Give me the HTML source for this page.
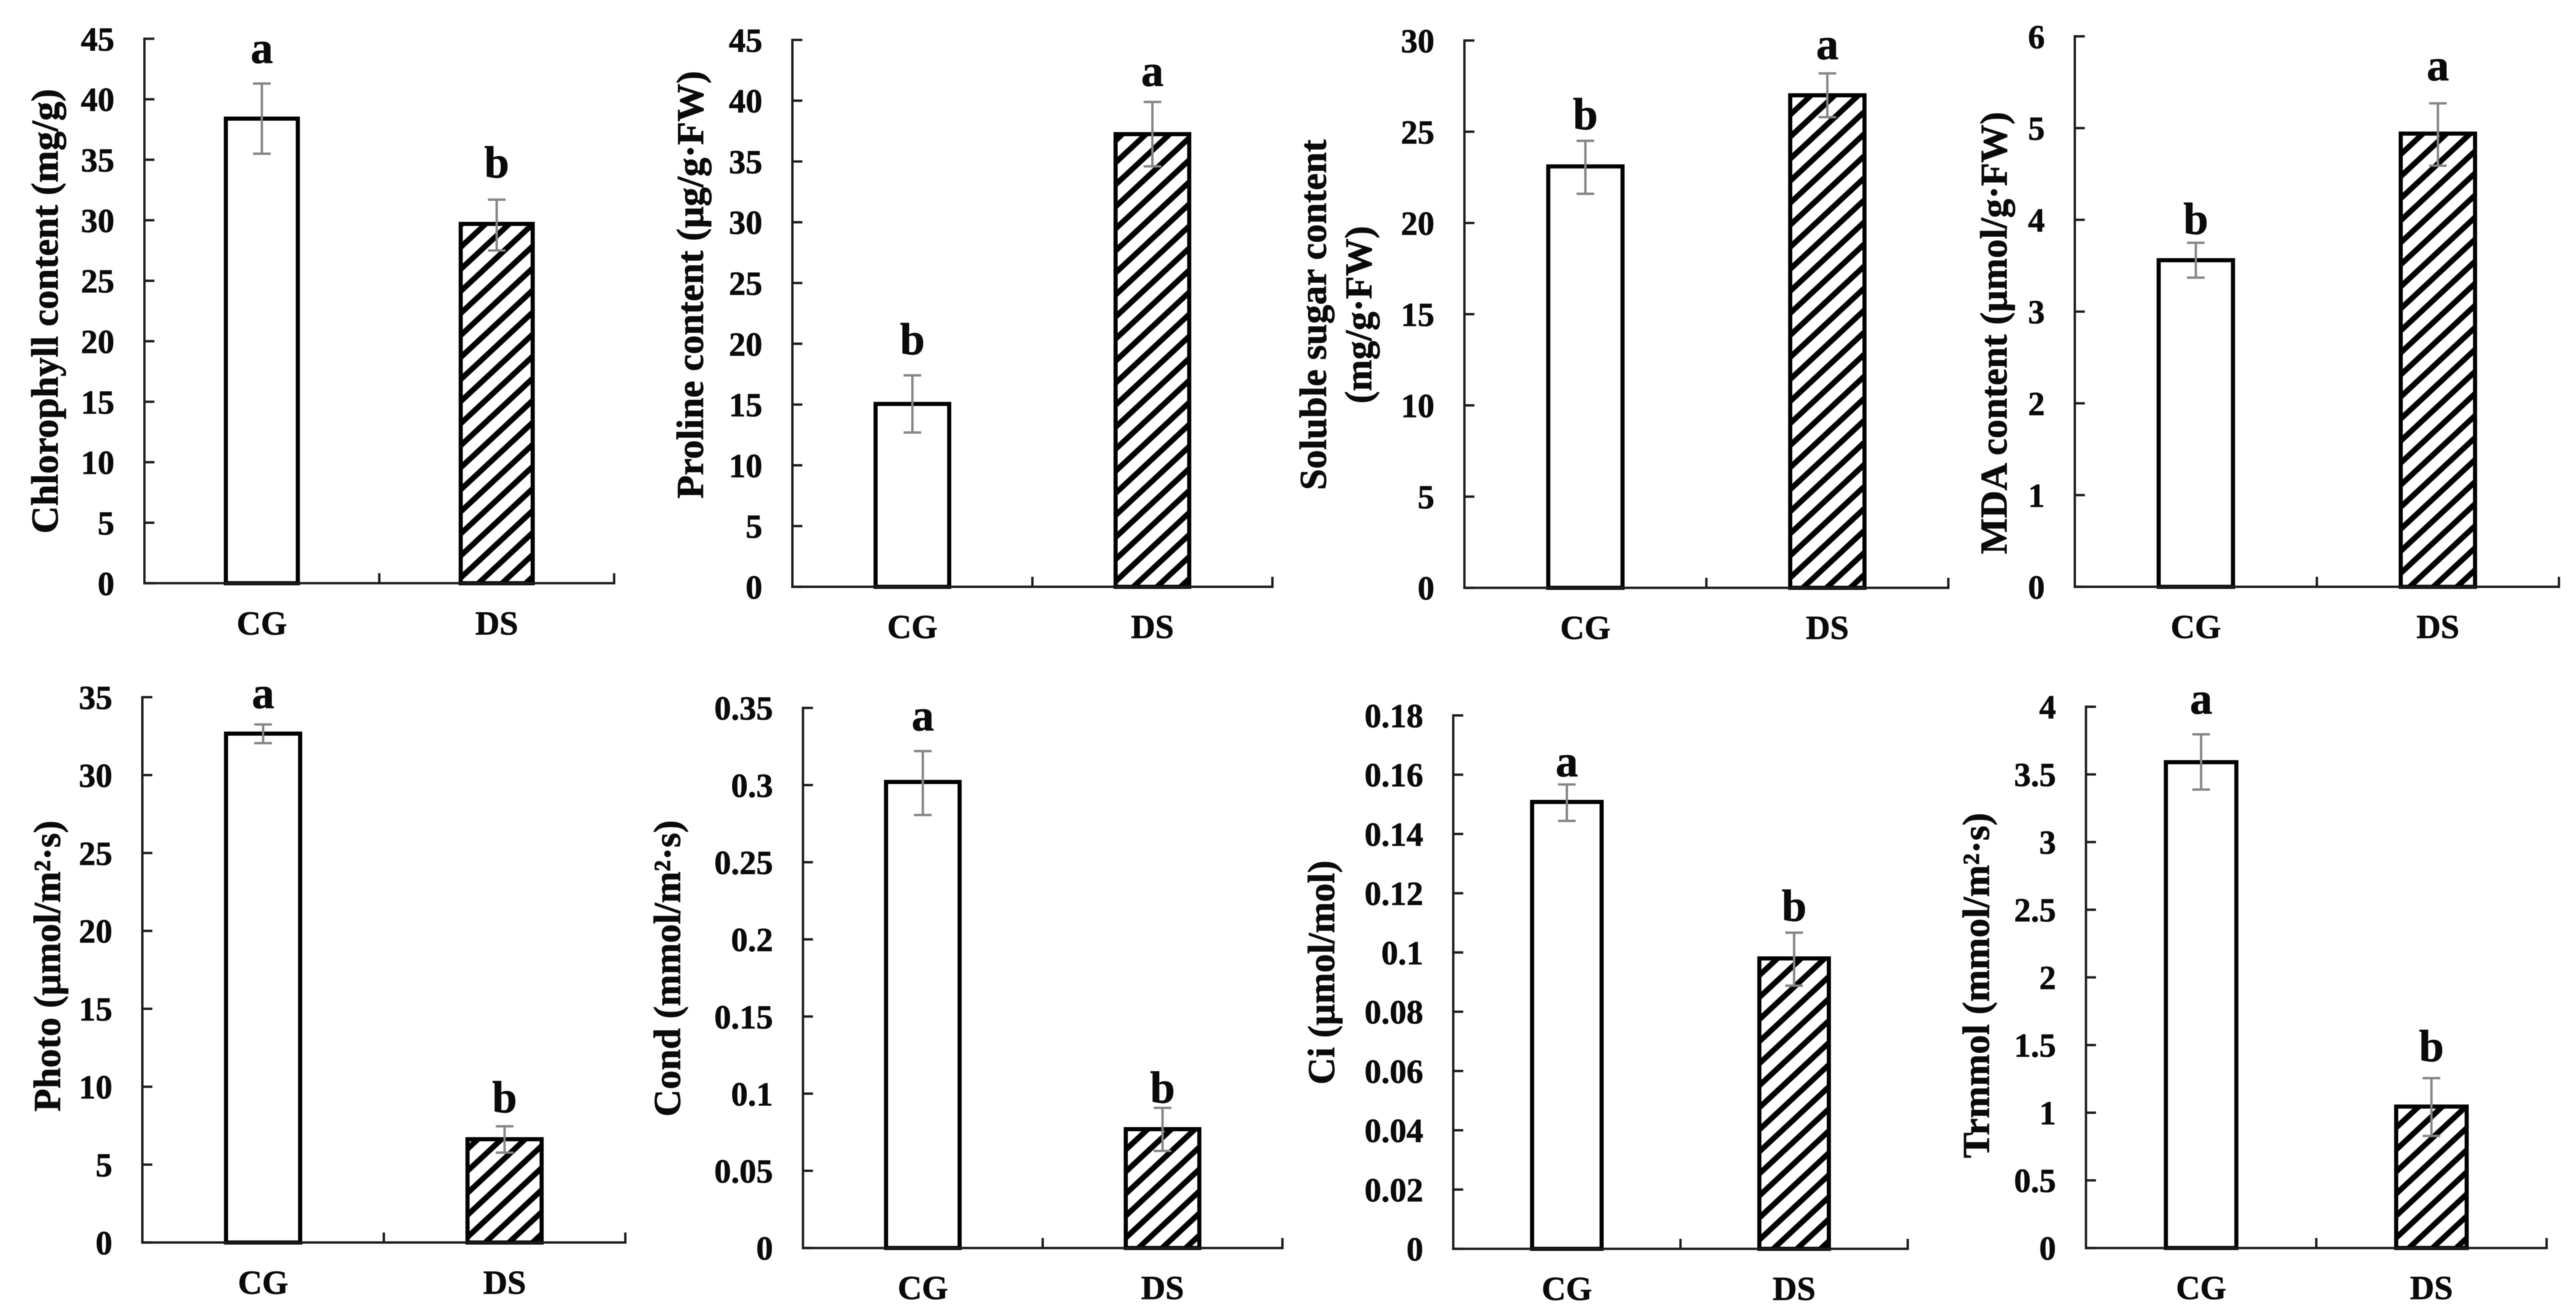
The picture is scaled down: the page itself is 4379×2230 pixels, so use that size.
<!DOCTYPE html>
<html lang="en">
<head>
<meta charset="utf-8">
<title>Physiological indicators under drought stress</title>
<style>
html,body{margin:0;padding:0;background:#fff;width:4379px;height:2230px;overflow:hidden}
svg{display:block;filter:blur(0.8px)}
text{font-family:"Liberation Serif","Times New Roman",serif;font-weight:bold;fill:#0a0a0a;stroke:#0a0a0a;stroke-width:0.8px}
</style>
</head>
<body>
<svg id="figure" xmlns="http://www.w3.org/2000/svg" width="4379" height="2230" viewBox="0 0 4379 2230">
<rect x="0" y="0" width="4379" height="2230" fill="#ffffff"></rect>
<defs id="defs"></defs>
</svg>
<script>
// ---- Data ----
const categories = ['CG', 'DS'];

const chlorophyllTicks = ['0','5','10','15','20','25','30','35','40','45'];
const chlorophyllValues = [38.4, 29.7];
const chlorophyllErrHigh = [41.3, 31.7];
const chlorophyllErrLow = [35.5, 27.5];
const chlorophyllLetters = ['a', 'b'];

const prolineTicks = ['0','5','10','15','20','25','30','35','40','45'];
const prolineValues = [15.05, 37.25];
const prolineErrHigh = [17.4, 39.9];
const prolineErrLow = [12.7, 34.6];
const prolineLetters = ['b', 'a'];

const sugarTicks = ['0','5','10','15','20','25','30'];
const sugarValues = [23.1, 27.0];
const sugarErrHigh = [24.5, 28.2];
const sugarErrLow = [21.6, 25.8];
const sugarLetters = ['b', 'a'];

const mdaTicks = ['0','1','2','3','4','5','6'];
const mdaValues = [3.56, 4.94];
const mdaErrHigh = [3.75, 5.27];
const mdaErrLow = [3.37, 4.59];
const mdaLetters = ['b', 'a'];

const photoTicks = ['0','5','10','15','20','25','30','35'];
const photoValues = [32.66, 6.63];
const photoErrHigh = [33.25, 7.46];
const photoErrLow = [32.05, 5.77];
const photoLetters = ['a', 'b'];

const condTicks = ['0','0.05','0.1','0.15','0.2','0.25','0.3','0.35'];
const condValues = [0.302, 0.077];
const condErrHigh = [0.322, 0.0908];
const condErrLow = [0.2806, 0.0629];
const condLetters = ['a', 'b'];

const ciTicks = ['0','0.02','0.04','0.06','0.08','0.1','0.12','0.14','0.16','0.18'];
const ciValues = [0.1508, 0.098];
const ciErrHigh = [0.1567, 0.1067];
const ciErrLow = [0.1444, 0.0888];
const ciLetters = ['a', 'b'];

const trmmolTicks = ['0','0.5','1','1.5','2','2.5','3','3.5','4'];
const trmmolValues = [3.59, 1.045];
const trmmolErrHigh = [3.796, 1.255];
const trmmolErrLow = [3.388, 0.828];
const trmmolLetters = ['a', 'b'];

// ---- Panel definitions: data references plus plot frames ----
const panels = [
  {id:'chlorophyll', ticks:chlorophyllTicks, values:chlorophyllValues, hi:chlorophyllErrHigh, lo:chlorophyllErrLow, letters:chlorophyllLetters,
   frame:{left:245.5, right:1044, top:65.9, bottom:991.3}, gaps:[35,38], hatchShift:6,
   title:[{text:'Chlorophyll content (mg/g)', x:98, y:529, len:756}]},
  {id:'proline', ticks:prolineTicks, values:prolineValues, hi:prolineErrHigh, lo:prolineErrLow, letters:prolineLetters,
   frame:{left:1347, right:2163, top:67.9, bottom:997.4}, gaps:[36,27], hatchShift:6,
   title:[{text:'Proline content (µg/g·FW)', x:1195, y:484, len:727}]},
  {id:'soluble-sugar', ticks:sugarTicks, values:sugarValues, hi:sugarErrHigh, lo:sugarErrLow, letters:sugarLetters,
   frame:{left:2489.4, right:3312, top:68.9, bottom:999.1}, gaps:[20,24], hatchShift:14,
   title:[{text:'Soluble sugar content', x:2254, y:535, len:596},{text:'(mg/g·FW)', x:2331, y:535, len:302}]},
  {id:'mda', ticks:mdaTicks, values:mdaValues, hi:mdaErrHigh, lo:mdaErrLow, letters:mdaLetters,
   frame:{left:3527, right:4350, top:61.8, bottom:997.4}, gaps:[15,39], hatchShift:20,
   title:[{text:'MDA content (µmol/g·FW)', x:3411, y:566, len:752}]},
  {id:'photo', ticks:photoTicks, values:photoValues, hi:photoErrHigh, lo:photoErrLow, letters:photoLetters,
   frame:{left:242, right:1063, top:1185, bottom:2111.9}, gaps:[28,24], hatchShift:6,
   title:[{text:'Photo (µmol/m²·s)', x:102, y:1642, len:495}]},
  {id:'cond', ticks:condTicks, values:condValues, hi:condErrHigh, lo:condErrLow, letters:condLetters,
   frame:{left:1365, right:2180, top:1203.2, bottom:2121.2}, gaps:[35,9], hatchShift:14,
   title:[{text:'Cond (mmol/m²·s)', x:1156, y:1646, len:504}]},
  {id:'ci', ticks:ciTicks, values:ciValues, hi:ciErrHigh, lo:ciErrLow, letters:ciLetters,
   frame:{left:2470.4, right:3243, top:1216, bottom:2122.6}, gaps:[14,20], hatchShift:12,
   title:[{text:'Ci (µmol/mol)', x:2268, y:1653, len:381}]},
  {id:'trmmol', ticks:trmmolTicks, values:trmmolValues, hi:trmmolErrHigh, lo:trmmolErrLow, letters:trmmolLetters,
   frame:{left:3546, right:4329, top:1201.2, bottom:2121.2}, gaps:[35,29], hatchShift:14,
   title:[{text:'Trmmol (mmol/m²·s)', x:3381, y:1675, len:587}]}
];

const NS = 'http://www.w3.org/2000/svg';
const root = document.getElementById('figure');
const defs = document.getElementById('defs');
const BAR_RATIO = 0.324;
const BAR_STROKE = 7;
const HATCH_PERIOD = 27.4;
const HATCH_WIDTH = 9.5;
const HATCH_ANGLE = 47;

function mk(tag, attrs, parent, txt) {
  const el = document.createElementNS(NS, tag);
  for (const k in attrs) el.setAttribute(k, attrs[k]);
  if (txt !== undefined) el.textContent = txt;
  parent.appendChild(el);
  return el;
}

panels.forEach(function (p) {
  const f = p.frame;
  const yMax = parseFloat(p.ticks[p.ticks.length - 1]);
  const yScale = function (v) { return f.bottom - (v / yMax) * (f.bottom - f.top); };
  const band = (f.right - f.left) / categories.length;
  const xScale = function (i) { return f.left + band * (i + 0.5); };
  const barW = band * BAR_RATIO;

  const g = mk('g', {}, root);
  
  

  // y axis line
  const yLine = mk('line', {x1:f.left, x2:f.left, y1:f.top - 2, y2:f.bottom + 2, stroke:'#1c1c1c', 'stroke-width':4}, g);
  
  

  // y ticks and labels
  p.ticks.forEach(function (t) {
    const y = yScale(parseFloat(t));
    const tick = mk('line', {x1:f.left, x2:f.left + 17, y1:y, y2:y, stroke:'#1c1c1c', 'stroke-width':4}, g);
    
    
    const lab = mk('text', {x:f.left - 51, y:y + 20, 'text-anchor':'end', 'font-size':57}, g, t);
    
    
  });

  // bars
  categories.forEach(function (c, i) {
    const cx = xScale(i);
    const yTop = yScale(p.values[i]);
    let fill = '#ffffff';
    if (i === 1) {
      const pid = 'hatch-' + p.id;
      const tx = cx - barW / 2;
      const ty = f.bottom - p.hatchShift;
      const pat = mk('pattern', {id:pid, patternUnits:'userSpaceOnUse', width:HATCH_PERIOD, height:40,
        patternTransform:'translate(' + tx + ',' + ty + ') rotate(' + HATCH_ANGLE + ')'}, defs);
      mk('rect', {x:0, y:0, width:HATCH_PERIOD, height:40, fill:'#ffffff'}, pat);
      mk('rect', {x:0, y:0, width:HATCH_WIDTH / 2, height:40, fill:'#000000'}, pat);
      mk('rect', {x:HATCH_PERIOD - HATCH_WIDTH / 2, y:0, width:HATCH_WIDTH / 2, height:40, fill:'#000000'}, pat);
      fill = 'url(#' + pid + ')';
    }
    const bar = mk('rect', {x:cx - barW / 2 + BAR_STROKE / 2, y:yTop, width:barW - BAR_STROKE, height:f.bottom - yTop, fill:fill, stroke:'#000000', 'stroke-width':BAR_STROKE}, g);
    
    
  });

  // x axis line and ticks (drawn over bar bottoms as in the source)
  const xLine = mk('line', {x1:f.left - 2, x2:f.right + 2, y1:f.bottom, y2:f.bottom, stroke:'#1c1c1c', 'stroke-width':4}, g);
  
  
  for (let k = 1; k <= categories.length; k++) {
    const tx = f.left + band * k;
    const tick = mk('line', {x1:tx, x2:tx, y1:f.bottom, y2:f.bottom - 17, stroke:'#1c1c1c', 'stroke-width':4}, g);
    
    
  }

  // error bars, category labels, significance letters
  categories.forEach(function (c, i) {
    const cx = xScale(i);
    const yHi = yScale(p.hi[i]);
    const yLo = yScale(p.lo[i]);
    const err = mk('path', {d:'M' + (cx - 15) + ' ' + yHi + 'H' + (cx + 15) + 'M' + cx + ' ' + yHi + 'V' + yLo + 'M' + (cx - 15) + ' ' + yLo + 'H' + (cx + 15),
      fill:'none', stroke:'#858585', 'stroke-width':4}, g);
    
    

    const lab = mk('text', {x:cx, y:f.bottom + 87, 'text-anchor':'middle', 'font-size':57}, g, c);
    
    

    const sig = mk('text', {x:cx, y:yHi - p.gaps[i], 'text-anchor':'middle', 'font-size':76}, g, p.letters[i]);
    
    
  });

  // axis title (one or two rotated lines)
  p.title.forEach(function (t) {
    const title = mk('text', {x:0, y:0, transform:'translate(' + t.x + ',' + t.y + ') rotate(-90)', 'text-anchor':'middle', 'font-size':65,
      textLength:t.len, lengthAdjust:'spacingAndGlyphs'}, g, t.text);
    
    
  });
});
</script>
</body>
</html>
